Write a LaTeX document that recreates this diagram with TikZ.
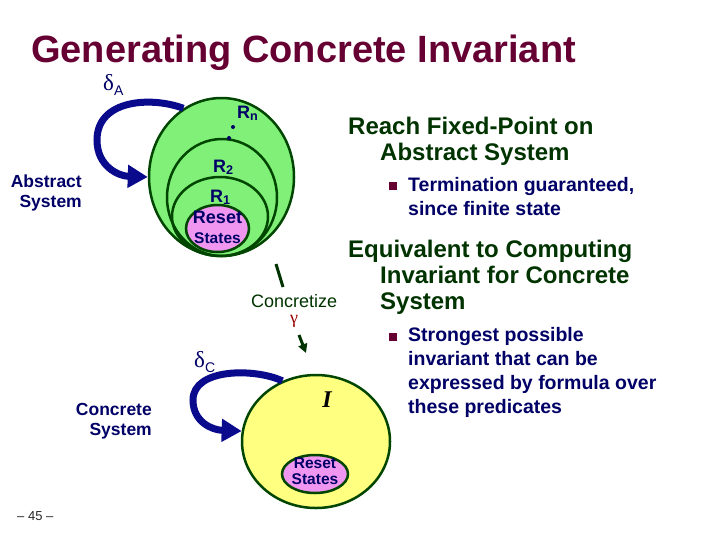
\documentclass[tikz,border=0pt]{standalone}
\usepackage{fontspec}
\setmainfont{Liberation Sans}
\newfontfamily\greekfont{Liberation Serif}
\usetikzlibrary{shapes.geometric,arrows.meta}

\definecolor{titlered}{RGB}{102,0,51}
\definecolor{navy}{RGB}{0,0,102}
\definecolor{loopblue}{RGB}{10,10,140}
\definecolor{darkgreen}{RGB}{0,51,0}
\definecolor{ringgreen}{RGB}{0,70,0}
\definecolor{lightgreen}{RGB}{128,240,120}
\definecolor{resetpink}{RGB}{240,150,240}
\definecolor{invyellow}{RGB}{255,255,128}
\definecolor{gammared}{RGB}{153,0,0}

\begin{document}
\begin{tikzpicture}[x=1pt, y=-1pt,
    ring/.style = {draw=ringgreen, line width=2.5pt, ellipse, inner sep=0pt},
    loopline/.style = {draw=loopblue, line width=7pt, -{Triangle[length=20pt,width=22pt]}},
    head/.style = {text=darkgreen, font=\fontsize{24}{26}\selectfont\bfseries, align=left, inner sep=0pt},
    itemtext/.style = {text=navy, font=\fontsize{19.5}{24}\selectfont\bfseries, align=left, inner sep=0pt},
    sidetext/.style = {text=navy, font=\fontsize{17.5}{20}\selectfont\bfseries, align=right, inner sep=0pt},
    rlabel/.style = {text=navy, font=\fontsize{18}{20}\selectfont\bfseries, inner sep=0pt},
    bulletbox/.style = {fill=titlered, minimum size=8pt, inner sep=0pt},
    conc/.style = {draw=darkgreen, line width=3pt}]
  \useasboundingbox (0,0) rectangle (719,539);

  % title and page number
  \node[anchor=base west, inner sep=0pt, text=titlered, font=\fontsize{38}{40}\selectfont\bfseries] (title) at (31,62) {Generating Concrete Invariant};
  \node[anchor=base west, inner sep=0pt, text=black!85, font=\fontsize{13}{15}\selectfont] (page) at (17,520) {– 45 –};

  % abstract system
  \node[ring, fill=lightgreen, minimum width=145pt, minimum height=158pt] (rn) at (221.5,177) {};
  \node[ring, fill=lightgreen, minimum width=110pt, minimum height=117pt] (r2) at (222,197.5) {};
  \node[rlabel, anchor=base west] (r1lbl) at (210,202) {R\textsubscript{1}};
  \node[ring, fill=lightgreen, minimum width=96pt, minimum height=79pt, fill opacity=0] (r1) at (220,216.5) {};
  \node[ring, fill=resetpink, minimum width=63pt, minimum height=47pt] (resa) at (217.5,228.5) {};
  \node[rlabel, anchor=base west] (rnlbl) at (237,118) {R\textsubscript{n}};
  \node[rlabel, anchor=base west] (r2lbl) at (213,172) {R\textsubscript{2}};
  \node[circle, fill=navy, minimum size=4pt, inner sep=0pt] (dot1) at (233,127) {};
  \node[circle, fill=navy, minimum size=4pt, inner sep=0pt] (dot2) at (229,138) {};
  \node[anchor=base, align=center, text=navy, inner sep=0pt, font=\fontsize{15.5}{20}\selectfont\bfseries] (resatxt) at (217.5,243) {{\fontsize{18}{20}\selectfont Reset}\\States};
  \node[anchor=base west, inner sep=0pt, text=navy, font=\fontsize{23}{24}\selectfont] (da) at (103,90) {{\greekfont δ}{\fontsize{14}{15}\selectfont\raisebox{-5pt}{A}}};
  \node[sidetext, anchor=base east] (abs) at (82,207) {Abstract\\System};
  \draw[loopline] (rn.119) .. controls (150,96) and (97,100) .. (97,140)
    .. controls (97,166) and (118,176) .. (rn.180);

  % concretization
  \coordinate (ctop) at (276,264);
  \coordinate (cbot) at (283,287);
  \coordinate (gtail) at (299,335);
  \coordinate (gtip) at (306,353);
  \draw[conc] (ctop) -- (cbot);
  \node[anchor=base west, inner sep=0pt, text=darkgreen, font=\fontsize{18}{20}\selectfont] (concr) at (251,307) {Concretize};
  \node[inner sep=0pt, text=gammared, font=\fontsize{18}{20}\selectfont\greekfont] (gam) at (294,321) {γ};
  \draw[conc, -{Triangle[length=9pt,width=9pt]}] (gtail) -- (gtip);

  % concrete system
  \node[ring, fill=invyellow, minimum width=148pt, minimum height=133pt] (inv) at (316,441.5) {};
  \node[ring, fill=resetpink, minimum width=66pt, minimum height=38pt] (resc) at (315,474) {};
  \node[anchor=base, inner sep=0pt, font=\fontsize{24}{26}\selectfont\greekfont\bfseries\itshape] (invlbl) at (327,407) {I};
  \node[anchor=base, align=center, text=navy, inner sep=0pt, font=\fontsize{15.5}{16}\selectfont\bfseries] (resctxt) at (315,484) {Reset\\States};
  \node[anchor=base west, inner sep=0pt, text=navy, font=\fontsize{23}{24}\selectfont] (dc) at (194,367) {{\greekfont δ}{\fontsize{14}{15}\selectfont\raisebox{-5pt}{C}}};
  \node[sidetext, anchor=base east] (con) at (152,435) {Concrete\\System};
  \draw[loopline] (inv.119) .. controls (255,368) and (193,368) .. (193,400)
    .. controls (193,422) and (212,430) .. (inv.172);

  % right hand text
  \node[head, anchor=base west] (reach) at (380,160) {\hspace*{-32pt}Reach Fixed-Point on\\Abstract System};
  \node[bulletbox] (b1) at (393,186) {};
  \node[itemtext, anchor=base west] (term) at (408,215) {Termination guaranteed,\\since finite state};
  \node[head, anchor=base west] (equiv) at (380,309) {\hspace*{-32pt}Equivalent to Computing\\Invariant for Concrete\\System};
  \node[bulletbox] (b2) at (393,337) {};
  \node[itemtext, anchor=base west] (strong) at (408,413) {Strongest possible\\invariant that can be\\expressed by formula over\\these predicates};
\end{tikzpicture}
\end{document}
